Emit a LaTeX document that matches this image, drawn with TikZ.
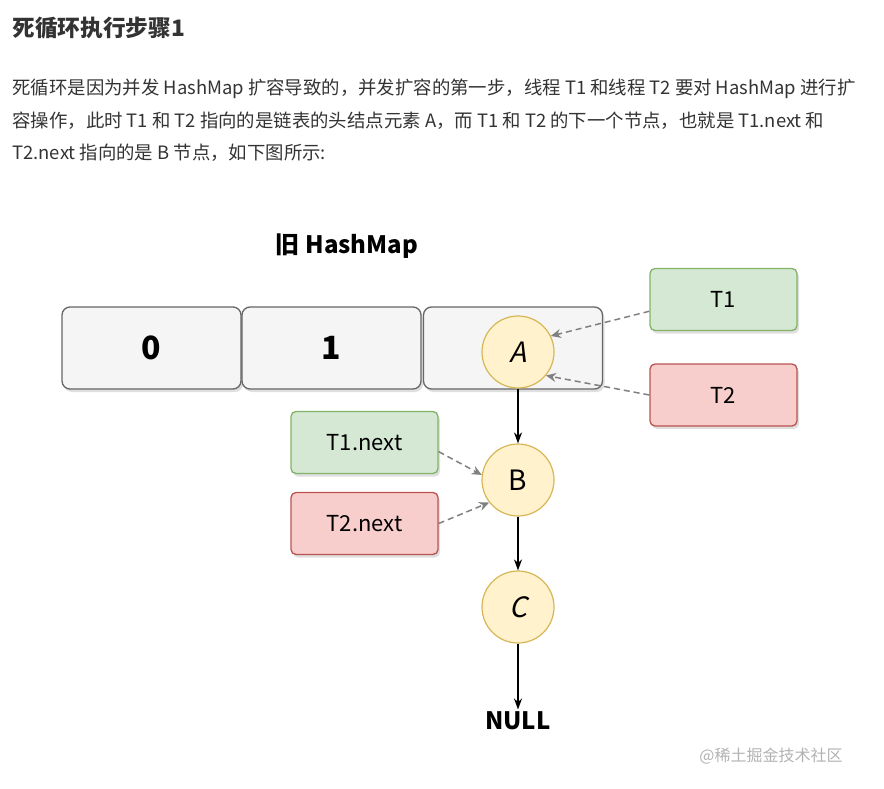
\documentclass[tikz,border=0pt]{standalone}
\usepackage{fontspec}
\setmainfont{Noto Sans CJK SC}
\newfontfamily\slantfont[FakeSlant=0.22]{Noto Sans CJK SC}
\usetikzlibrary{arrows.meta,shadows}

% 配色
\definecolor{bucketfill}{HTML}{F5F5F5}
\definecolor{bucketline}{HTML}{666666}
\definecolor{nodefill}{HTML}{FFF2CC}
\definecolor{nodeline}{HTML}{D6B656}
\definecolor{greenfill}{HTML}{D5E8D4}
\definecolor{greenline}{HTML}{82B366}
\definecolor{redfill}{HTML}{F8CECC}
\definecolor{redline}{HTML}{B85450}
\definecolor{textgray}{HTML}{333333}

\begin{document}
\begin{tikzpicture}[x=1pt, y=-1pt, thick,
    bucket/.style={draw=bucketline, fill=bucketfill, rounded corners=8pt, line width=1.3pt,
        minimum width=179pt, minimum height=82pt, inner sep=0pt,
        drop shadow={shadow xshift=2pt, shadow yshift=-3pt, opacity=0.25},
        font=\fontsize{32}{34}\selectfont\bfseries},
    elem/.style={circle, draw=nodeline, fill=nodefill, line width=1.2pt, minimum size=72pt,
        inner sep=0pt, font=\fontsize{28}{30}\selectfont},
    thread/.style={rounded corners=5pt, line width=1.3pt, minimum width=147pt, minimum height=62pt,
        inner sep=0pt, drop shadow={shadow xshift=2pt, shadow yshift=-3pt, opacity=0.25},
        font=\fontsize{22}{24}\selectfont},
    green box/.style={thread, draw=greenline, fill=greenfill},
    red box/.style={thread, draw=redline, fill=redfill},
    link/.style={-{Stealth[length=11pt, width=8pt]}, line width=1.6pt, black},
    ptr/.style={-{Stealth[length=10pt, width=9pt]}, dashed, dash pattern=on 6pt off 4pt,
        line width=1.5pt, black!50}]

    \useasboundingbox (0,0) rectangle (884,789);

    % === 文字说明 ===
    \node[anchor=west, inner sep=0pt, text=textgray, font=\fontsize{22.7}{25}\selectfont\bfseries]
        (title) at (12,28) {死循环执行步骤1};
    \node[anchor=west, inner sep=0pt, text=textgray, font=\fontsize{18.4}{21}\selectfont]
        (line1) at (12,89) {死循环是因为并发 HashMap 扩容导致的，并发扩容的第一步，线程 T1 和线程 T2 要对 HashMap 进行扩};
    \node[anchor=west, inner sep=0pt, text=textgray, font=\fontsize{18.4}{21}\selectfont]
        (line2) at (12,121) {容操作，此时 T1 和 T2 指向的是链表的头结点元素 A，而 T1 和 T2 的下一个节点，也就是 T1.next 和};
    \node[anchor=west, inner sep=0pt, text=textgray, font=\fontsize{18.4}{21}\selectfont]
        (line3) at (12,153) {T2.next 指向的是 B 节点，如下图所示:};

    % === 旧 HashMap 桶 ===
    \node[font=\fontsize{24}{26}\selectfont\bfseries] (caption) at (347,246) {旧 HashMap};
    \node[bucket] (bucket0) at (151.5,348) {0};
    \node[bucket] (bucket1) at (331.5,348) {1};
    \node[bucket] (bucket2) at (513,348) {};

    % === 链表 A -> B -> C -> NULL ===
    \node[elem] (A) at (518,352) {\slantfont A};
    \node[elem] (B) at (518,480) {B};
    \node[elem] (C) at (518,607) {\slantfont C};
    \node[font=\fontsize{24}{26}\selectfont\bfseries, inner sep=2pt] (null) at (518,721) {NULL};

    \draw[link] (A) -- (B);
    \draw[link] (B) -- (C);
    \draw[link] (C) -- (null);

    % === 线程指针 ===
    \node[green box] (T1) at (723.5,299.5) {T1};
    \node[red box] (T2) at (723.5,395) {T2};
    \node[green box] (T1next) at (364.5,442.5) {T1.next};
    \node[red box] (T2next) at (364.5,523.5) {T2.next};

    \draw[ptr] (T1.189) -- (A.26);
    \draw[ptr] (T2.west) -- (A.-40);
    \draw[ptr] (T1next.-7) -- (B.172);
    \draw[ptr] (T2next.east) -- (B.218);

    % 水印
    \node[text=black!30, font=\fontsize{16}{18}\selectfont] (mark) at (771,756) {@稀土掘金技术社区};

\end{tikzpicture}
\end{document}
